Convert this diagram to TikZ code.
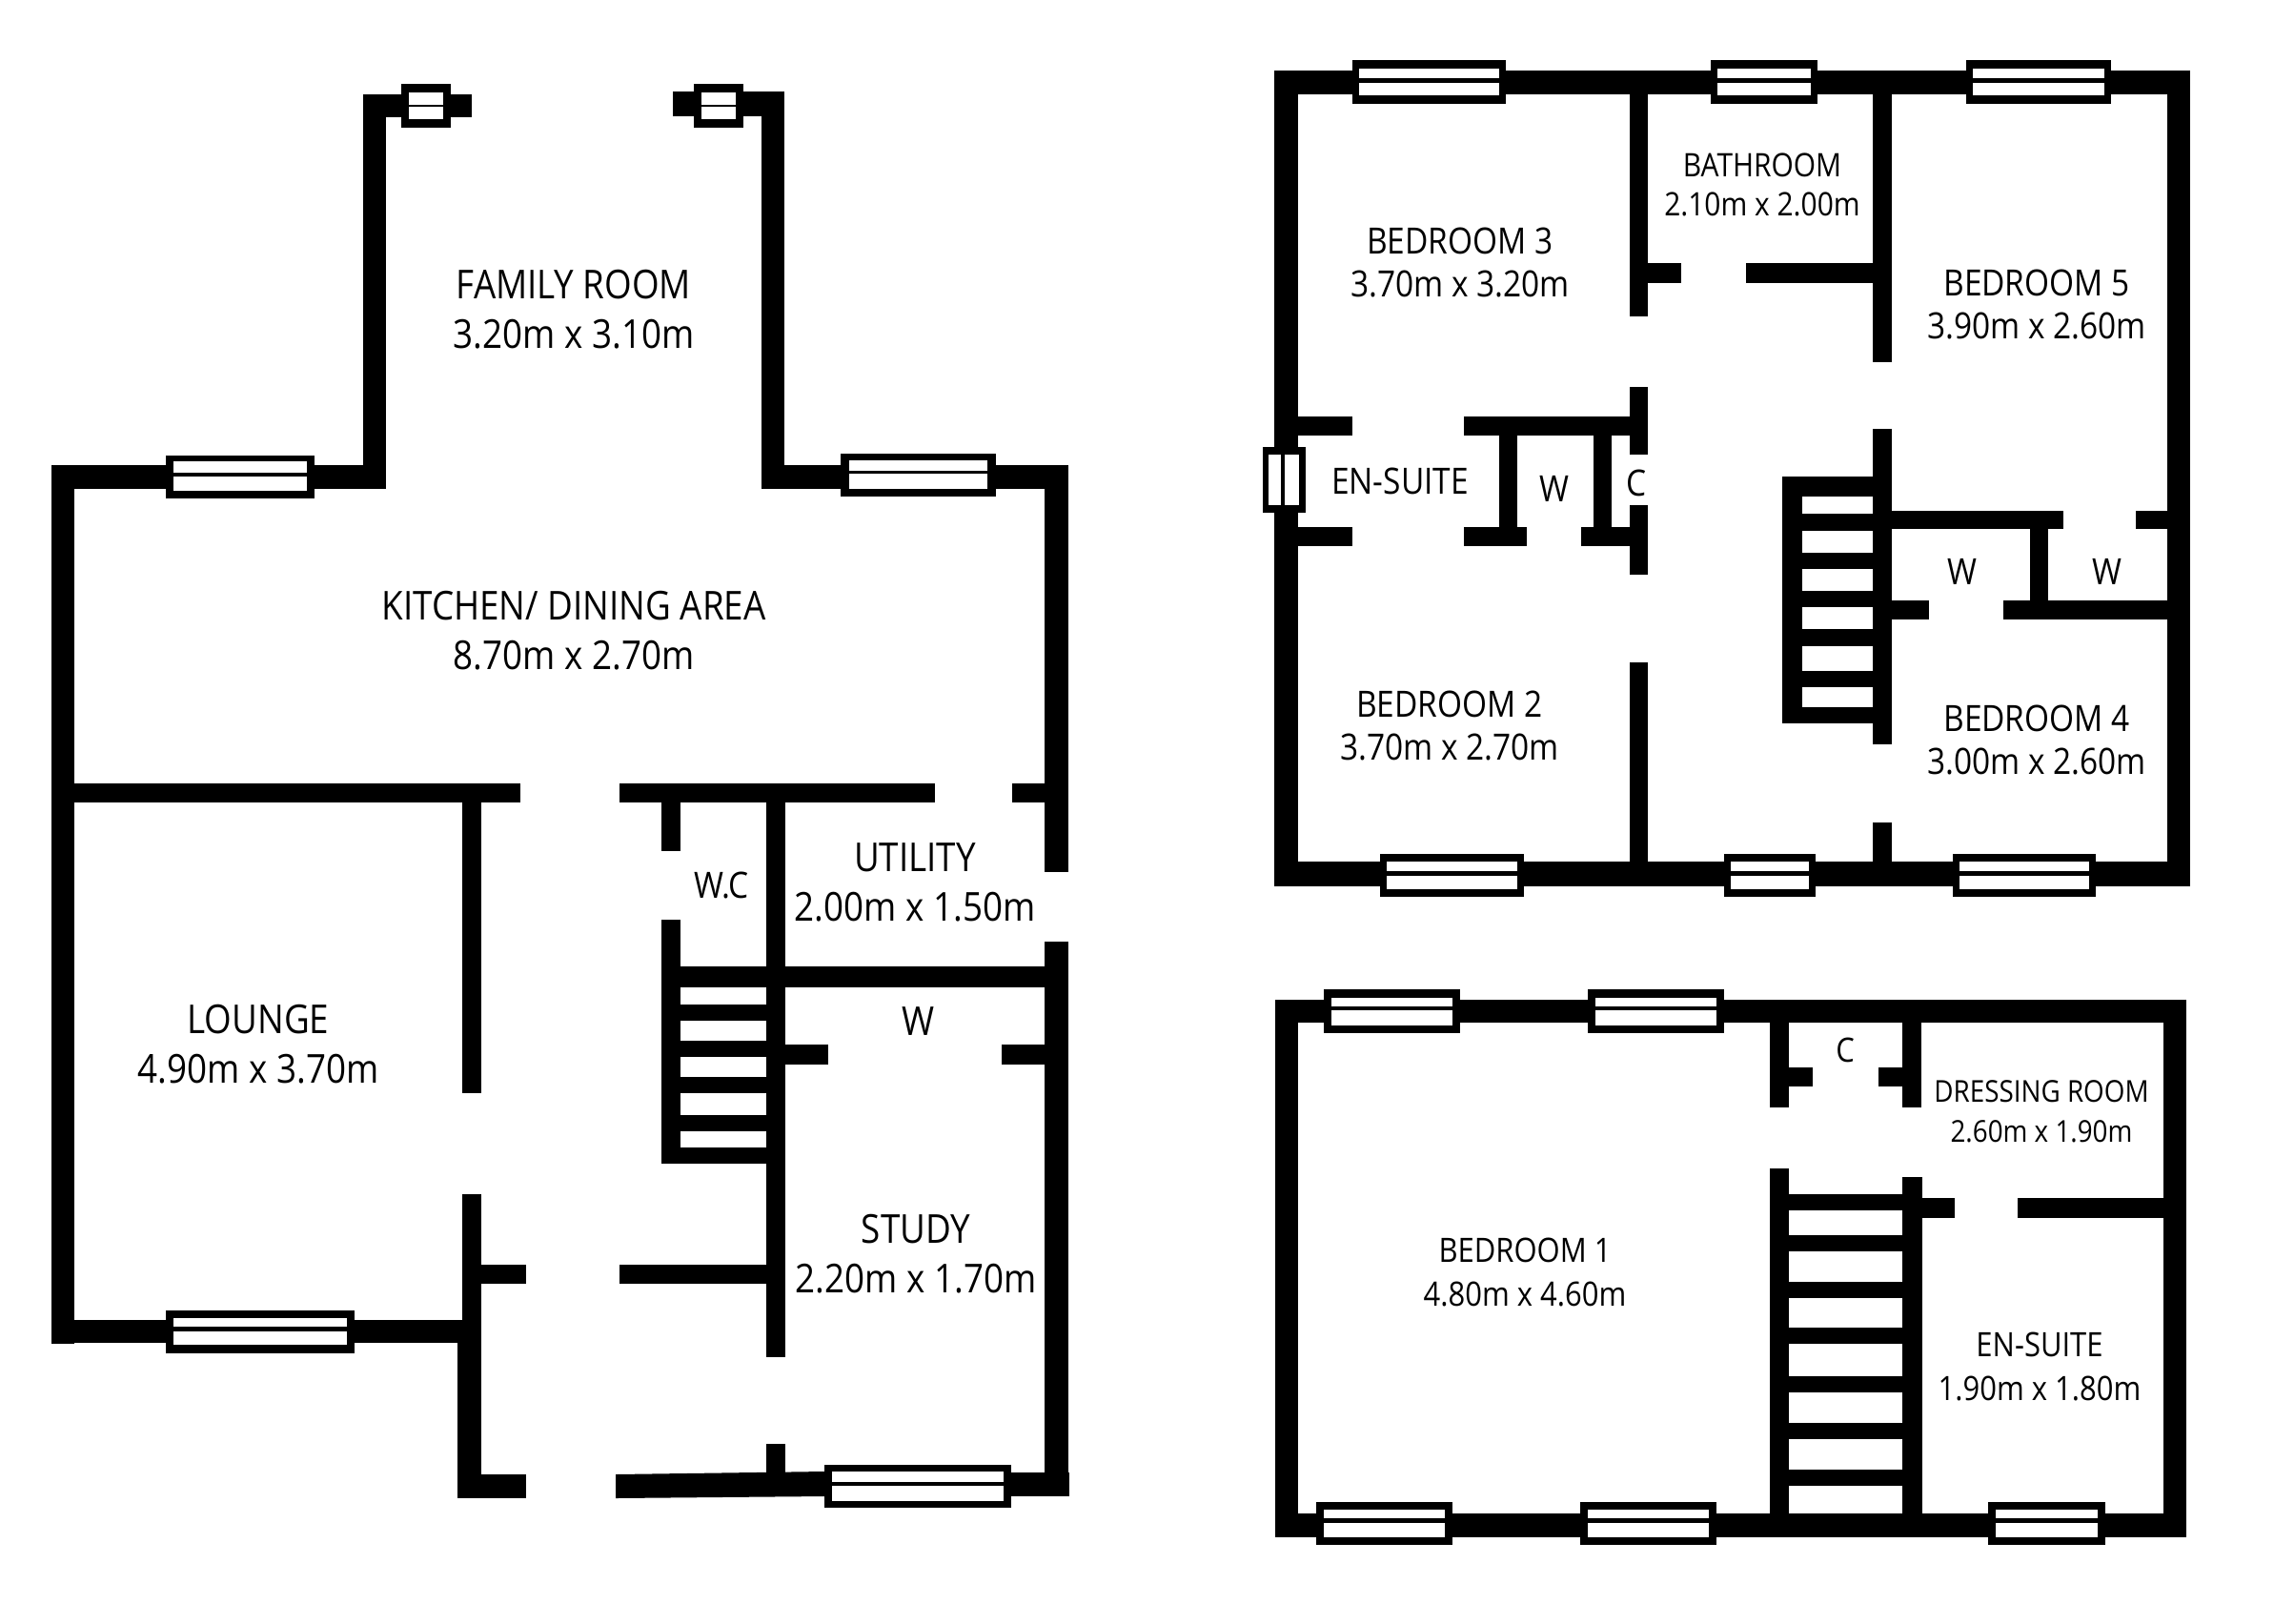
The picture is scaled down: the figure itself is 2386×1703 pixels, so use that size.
\documentclass[tikz,border=0pt]{standalone}
\usepackage{fontspec}
\newfontfamily\planfont[FakeStretch=0.88]{Open Sans}
\newcommand{\W}[4]{\fill[wallfill] (#1,#2) rectangle (#3,#4);}
% window: x1,x2,y1,y2, margin, pane1 top,bottom, pane2 top,bottom
\newcommand{\Win}[9]{\fill[wallfill] (#1,#3) rectangle (#2,#4);
  \fill[panefill] ({#1+#5},#6) rectangle ({#2-#5},#7);
  \fill[panefill] ({#1+#5},#8) rectangle ({#2-#5},#9);}
\newcommand{\Lbl}[5]{\node[#1] (#2) at (#3,#4) {#5};}
\tikzset{
  wallfill/.style={fill=black},
  panefill/.style={fill=white},
  roomtext/.style={inner sep=0pt,align=center,text=black},
  big/.style={roomtext,font=\planfont\fontsize{20.9}{26}\selectfont},
  mid/.style={roomtext,font=\planfont\fontsize{19.0}{22.5}\selectfont},
  bath/.style={roomtext,font=\planfont\fontsize{17.0}{20.5}\selectfont},
  low/.style={roomtext,font=\planfont\fontsize{17.6}{23}\selectfont},
  dress/.style={roomtext,font=\planfont\fontsize{15.8}{21}\selectfont}
}
\begin{document}
\begin{tikzpicture}[x=0.5pt,y=-0.5pt]
\useasboundingbox (0,0) rectangle (2386,1703);
\fill[white] (0,0) rectangle (2386,1703);
%% ---- ground floor ----
\W{54}{488}{78}{1410}
\W{54}{488}{405}{513}
\W{381}{99}{405}{513}
\W{381}{99}{495}{123}
\W{799}{96}{823}{513}
\W{706}{96}{823}{122}
\W{799}{488}{1121}{513}
\W{1096}{488}{1121}{915}
\W{1096}{988}{1121}{1568}
\W{54}{822}{546}{842}
\W{650}{822}{981}{842}
\W{1062}{822}{1096}{842}
\W{485}{842}{505}{1147}
\W{485}{1253}{505}{1409}
\W{480}{1385}{505}{1572}
\W{505}{1327}{552}{1347}
\W{480}{1547}{552}{1572}
\W{54}{1385}{485}{1409}
\W{694}{842}{714}{893}
\W{694}{965}{714}{1221}
\W{804}{822}{824}{1424}
\W{804}{1515}{824}{1546}
\W{694}{1014}{1121}{1036}
\W{714}{1054}{804}{1071}
\W{714}{1092}{804}{1109}
\W{714}{1130}{804}{1147}
\W{714}{1170}{804}{1187}
\W{694}{1204}{804}{1221}
\W{824}{1096}{869}{1117}
\W{1051}{1096}{1096}{1117}
\W{650}{1327}{804}{1347}
\fill[wallfill] (646,1547) -- (865,1544) -- (865,1570) -- (646,1572) -- cycle;
\W{1061}{1545}{1122}{1570}
\Win{421}{473}{88}{134}{8}{97}{110}{112}{125}
\Win{728}{780}{88}{134}{8}{97}{110}{112}{125}
\Win{174}{330}{478}{523}{8}{484}{496}{500}{515}
\Win{882}{1045}{476}{521}{9}{483}{494}{497}{513}
\Win{174}{372}{1375}{1420}{8}{1383}{1392}{1397}{1411}
\Win{865}{1061}{1537}{1582}{8}{1544}{1555}{1559}{1575}
%% ---- first floor ----
\W{1337}{74}{1362}{930}
\W{1337}{74}{2298}{99}
\W{2274}{74}{2298}{930}
\W{1337}{904}{2298}{930}
\W{1710}{99}{1729}{332}
\W{1710}{406}{1729}{477}
\W{1710}{530}{1729}{603}
\W{1710}{695}{1729}{904}
\W{1729}{276}{1764}{297}
\W{1832}{276}{1965}{297}
\W{1965}{99}{1985}{380}
\W{1965}{450}{1985}{781}
\W{1965}{863}{1985}{904}
\W{1362}{437}{1419}{457}
\W{1362}{553}{1419}{573}
\W{1536}{437}{1710}{457}
\W{1573}{457}{1592}{553}
\W{1536}{553}{1602}{573}
\W{1672}{457}{1691}{553}
\W{1659}{553}{1710}{573}
\W{1870}{500}{1965}{521}
\W{1870}{500}{1891}{759}
\W{1891}{539}{1965}{557}
\W{1891}{580}{1965}{597}
\W{1891}{620}{1965}{637}
\W{1891}{660}{1965}{678}
\W{1891}{704}{1965}{721}
\W{1891}{742}{1965}{759}
\W{1985}{536}{2165}{555}
\W{2241}{536}{2274}{555}
\W{2130}{555}{2149}{630}
\W{2102}{630}{2274}{650}
\W{1985}{630}{2024}{650}
\Win{1419}{1580}{63}{109}{7}{72}{82}{87}{100}
\Win{1795}{1907}{63}{109}{7}{72}{82}{87}{100}
\Win{2063}{2215}{63}{109}{7}{72}{82}{87}{100}
\Win{1448}{1599}{896}{941}{7}{904}{914}{919}{933}
\Win{1809}{1905}{896}{941}{7}{904}{914}{919}{933}
\Win{2049}{2199}{896}{941}{7}{904}{914}{919}{933}
\fill[wallfill] (1325,469) rectangle (1370,538);
\fill[panefill] (1331,477) rectangle (1344,530);
\fill[panefill] (1348,477) rectangle (1363,530);
%% ---- second floor ----
\W{1338}{1049}{1362}{1613}
\W{1338}{1049}{2294}{1073}
\W{2270}{1049}{2294}{1613}
\W{1338}{1588}{2294}{1613}
\W{1857}{1073}{1877}{1162}
\W{1857}{1226}{1877}{1613}
\W{1996}{1073}{2016}{1162}
\W{1877}{1120}{1902}{1140}
\W{1971}{1120}{1996}{1140}
\W{1996}{1235}{2017}{1588}
\W{2017}{1257}{2051}{1278}
\W{2117}{1257}{2270}{1278}
\W{1877}{1253}{1996}{1270}
\W{1877}{1296}{1996}{1313}
\W{1877}{1345}{1996}{1362}
\W{1877}{1393}{1996}{1410}
\W{1877}{1444}{1996}{1461}
\W{1877}{1493}{1996}{1510}
\W{1877}{1542}{1996}{1559}
\Win{1389}{1532}{1038}{1084}{8}{1047}{1056}{1060}{1076}
\Win{1666}{1809}{1038}{1084}{8}{1047}{1056}{1060}{1076}
\Win{1381}{1524}{1576}{1621}{8}{1584}{1593}{1598}{1613}
\Win{1658}{1801}{1576}{1621}{8}{1584}{1593}{1598}{1613}
\Win{2086}{2209}{1576}{1621}{8}{1584}{1593}{1598}{1613}
%% ---- labels ----
\Lbl{big}{family}{602}{325}{FAMILY ROOM\\3.20m x 3.10m}
\Lbl{big}{kitchen}{602}{662}{KITCHEN/ DINING AREA\\8.70m x 2.70m}
\Lbl{big}{lounge}{271}{1096}{LOUNGE\\4.90m x 3.70m}
\Lbl{mid}{wc}{757}{929}{W.C}
\Lbl{big}{utility}{960}{926}{UTILITY\\2.00m x 1.50m}
\Lbl{big}{wstudy}{964}{1072}{W}
\Lbl{big}{study}{961}{1316}{STUDY\\2.20m x 1.70m}
\Lbl{mid}{bedthree}{1532}{275}{BEDROOM 3\\3.70m x 3.20m}
\Lbl{bath}{bathroom}{1849}{194}{BATHROOM\\2.10m x 2.00m}
\Lbl{mid}{bedfive}{2137}{319}{BEDROOM 5\\3.90m x 2.60m}
\Lbl{mid}{bedtwo}{1521}{761}{BEDROOM 2\\3.70m x 2.70m}
\Lbl{mid}{bedfour}{2137}{776}{BEDROOM 4\\3.00m x 2.60m}
\Lbl{mid}{ensuiteup}{1469}{505}{EN-SUITE}
\Lbl{mid}{wa}{1631}{513}{W}
\Lbl{mid}{ca}{1717}{507}{C}
\Lbl{mid}{wb}{2059}{600}{W}
\Lbl{mid}{wc2}{2211}{600}{W}
\Lbl{low}{bedone}{1600}{1335}{BEDROOM 1\\4.80m x 4.60m}
\Lbl{low}{cb}{1936}{1102}{C}
\Lbl{dress}{dressing}{2142}{1166}{DRESSING ROOM\\2.60m x 1.90m}
\Lbl{low}{ensuitelow}{2140}{1434}{EN-SUITE\\1.90m x 1.80m}
\end{tikzpicture}
\end{document}
